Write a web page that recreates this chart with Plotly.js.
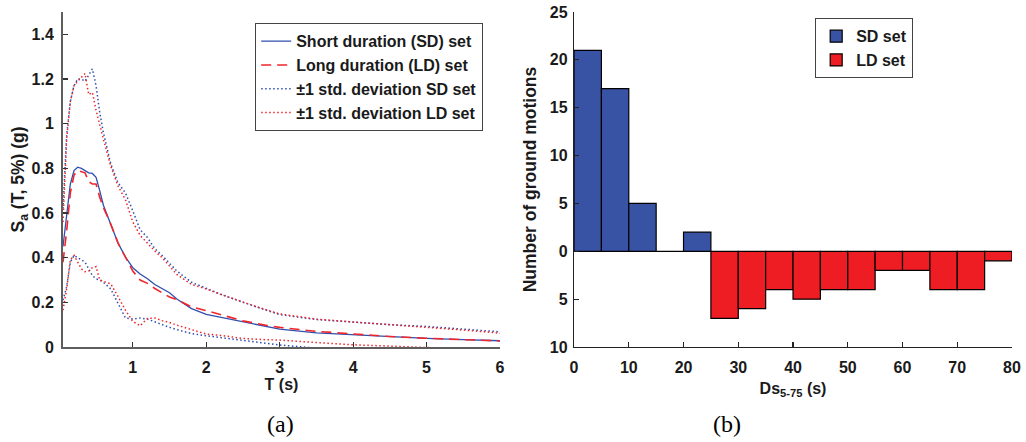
<!DOCTYPE html>
<html>
<head>
<meta charset="utf-8">
<script src="https://cdn.plot.ly/plotly-3.0.1.min.js"></script>
<style>html,body{margin:0;padding:0;background:#fff;}#chart{width:1026px;height:442px;}</style>
</head>
<body>
<div id="chart"></div>
<script>
// ---- Panel (a): response spectra ----
const periodT = [0.05,0.1,0.15,0.2,0.25,0.3,0.35,0.4,0.45,0.5,0.55,0.6,0.7,0.8,0.9,1.0,1.1,1.2,1.3,1.4,1.5,1.6,1.8,2.0,2.2,2.5,2.8,3.0,3.5,4.0,4.5,5.0,5.5,6.0];
const meanSD  = [0.45,0.59,0.73,0.79,0.805,0.80,0.79,0.78,0.777,0.76,0.70,0.635,0.55,0.465,0.403,0.355,0.327,0.306,0.28,0.26,0.243,0.215,0.172,0.146,0.133,0.112,0.092,0.080,0.063,0.054,0.046,0.039,0.033,0.028];
const meanLD  = [0.38,0.52,0.69,0.77,0.79,0.785,0.78,0.74,0.73,0.73,0.67,0.625,0.55,0.465,0.40,0.34,0.30,0.285,0.262,0.242,0.224,0.212,0.18,0.163,0.145,0.117,0.098,0.088,0.070,0.057,0.047,0.039,0.033,0.027];
const upperSD = [0.62,0.95,1.10,1.17,1.20,1.20,1.19,1.22,1.245,1.17,1.05,0.96,0.82,0.735,0.69,0.61,0.525,0.49,0.44,0.41,0.375,0.34,0.29,0.262,0.236,0.20,0.166,0.145,0.123,0.111,0.100,0.092,0.080,0.068];
const upperLD = [0.56,0.93,1.10,1.17,1.19,1.21,1.225,1.13,1.14,1.06,0.99,0.93,0.81,0.72,0.66,0.56,0.50,0.465,0.43,0.40,0.36,0.325,0.28,0.26,0.235,0.20,0.168,0.148,0.125,0.112,0.100,0.090,0.076,0.062];
const lowerSD = [0.21,0.27,0.38,0.41,0.40,0.39,0.38,0.35,0.32,0.305,0.30,0.29,0.26,0.195,0.13,0.125,0.13,0.125,0.113,0.098,0.088,0.078,0.060,0.050,0.042,0.030,0.016,0.009,-0.005,-0.010,-0.015,-0.020,-0.025,-0.030];
const lowerLD = [0.165,0.26,0.39,0.41,0.38,0.35,0.337,0.34,0.355,0.36,0.30,0.295,0.283,0.225,0.165,0.115,0.095,0.128,0.13,0.118,0.11,0.098,0.077,0.058,0.052,0.038,0.033,0.031,0.020,0.010,0.004,-0.003,-0.010,-0.015];
const saTicks = [0,0.2,0.4,0.6,0.8,1,1.2,1.4];
const saTickText = ['0','0.2','0.4','0.6','0.8','1','1.2','1.4'];
const tTicks = [1,2,3,4,5,6];

// ---- Panel (b): duration histogram ----
const binStartsSD = [0,5,10,15,20];
const countsSD = [21,17,5,0,2];
const binStartsLD = [25,30,35,40,45,50,55,60,65,70,75];
const countsLD = [7,6,4,5,4,4,2,2,4,4,1];
const countTicks = [-10,-5,0,5,10,15,20,25];
const countTickText = ['10','5','0','5','10','15','20','25'];
const dsTicks = [0,10,20,30,40,50,60,70,80];

const binWidth = 5;
const BLUE = '#2f4eae';
const RED = '#f0262b';
const txt = '#1a1a1a';
const fontFam = 'Liberation Sans, Arial, Helvetica, sans-serif';

const traces = [
  {x: periodT, y: meanSD, type:'scatter', mode:'lines', name:'Short duration (SD) set',
   line:{color:BLUE, width:1.3}, xaxis:'x', yaxis:'y', legend:'legend'},
  {x: periodT, y: meanLD, type:'scatter', mode:'lines', name:'Long duration (LD) set',
   line:{color:RED, width:1.6, dash:'10px,6px'}, xaxis:'x', yaxis:'y', legend:'legend'},
  {x: periodT, y: upperSD, type:'scatter', mode:'lines', name:'±1 std. deviation SD set',
   line:{color:BLUE, width:1.5, dash:'1.5px,2.5px'}, xaxis:'x', yaxis:'y', legend:'legend', legendgroup:'sd'},
  {x: periodT, y: upperLD, type:'scatter', mode:'lines', name:'±1 std. deviation LD set',
   line:{color:RED, width:1.5, dash:'1.5px,2.5px'}, xaxis:'x', yaxis:'y', legend:'legend', legendgroup:'ld'},
  {x: periodT, y: lowerSD, type:'scatter', mode:'lines', name:'-1 std SD', showlegend:false,
   line:{color:BLUE, width:1.5, dash:'1.5px,2.5px'}, xaxis:'x', yaxis:'y', legendgroup:'sd'},
  {x: periodT, y: lowerLD, type:'scatter', mode:'lines', name:'-1 std LD', showlegend:false,
   line:{color:RED, width:1.5, dash:'1.5px,2.5px'}, xaxis:'x', yaxis:'y', legendgroup:'ld'},
  {x: binStartsSD.map(s => s + binWidth/2), y: countsSD, width: binWidth, type:'bar', name:'SD set',
   marker:{color:'#3852a4', line:{color:'#000', width:1.2}}, xaxis:'x2', yaxis:'y2', legend:'legend2'},
  {x: binStartsLD.map(s => s + binWidth/2), y: countsLD.map(v => -v), width: binWidth, type:'bar', name:'LD set',
   marker:{color:'#ee1d24', line:{color:'#000', width:1.2}}, xaxis:'x2', yaxis:'y2', legend:'legend2'}
];

const tf = {family:fontFam, size:16, color:txt, weight:'bold'};
const yf = {family:fontFam, size:17.5, color:txt, weight:'bold'};
const axCommon = {showgrid:false, zeroline:false, showline:true, ticks:'inside', ticklen:5, tickwidth:1.2, tickfont:tf};

const layout = {
  width:1026, height:442,
  margin:{l:63, r:14, t:12, b:95},
  paper_bgcolor:'#fff', plot_bgcolor:'#fff',
  font:tf,
  barmode:'overlay', bargap:0,
  xaxis: Object.assign({}, axCommon, {domain:[0,0.4605], range:[0.05,6], tickvals:tTicks, anchor:'y',
    linecolor:'#5e5e5e', linewidth:2, tickcolor:'#333', ticklabelstandoff:5,
    title:{text:'T (s)', standoff:3, font:tf}}),
  yaxis: Object.assign({}, axCommon, {domain:[0,1], range:[0,1.5], tickvals:saTicks, ticktext:saTickText, anchor:'x',
    linecolor:'#5e5e5e', linewidth:2, tickcolor:'#333', ticklabelstandoff:4,
    title:{text:'S<sub>a</sub> (T, 5%) (g)', standoff:2, font:yf}}),
  xaxis2: Object.assign({}, axCommon, {domain:[0.5385,1], range:[0,80], tickvals:dsTicks, anchor:'y2',
    linecolor:'#222', linewidth:1.3, tickcolor:'#222', ticklabelstandoff:5,
    title:{text:'Ds<sub>5-75</sub> (s)', standoff:8, font:tf}}),
  yaxis2: Object.assign({}, axCommon, {domain:[0,1], range:[-10,25], tickvals:countTicks, ticktext:countTickText, anchor:'x2',
    linecolor:'#222', linewidth:1.3, tickcolor:'#222', zeroline:true, zerolinecolor:'#000', zerolinewidth:1.3, ticklabelstandoff:2,
    title:{text:'Number of ground motions', standoff:8, font:yf}}),
  legend:{x:0.2023, y:0.967, xanchor:'left', yanchor:'top', bgcolor:'#fff', bordercolor:'#444', borderwidth:1.2,
    tracegroupgap:0, font:{family:fontFam, size:16, color:txt, weight:'bold'}},
  legend2:{x:0.7924, y:0.982, xanchor:'left', yanchor:'top', bgcolor:'#fff', bordercolor:'#444', borderwidth:1.2,
    tracegroupgap:0, font:{family:fontFam, size:16, color:txt, weight:'bold'}},
  annotations:[
    {text:'(a)', xref:'paper', yref:'paper', x:0.2287, y:-0.23, xanchor:'center', yanchor:'middle', showarrow:false,
     font:{family:'Liberation Serif, Times New Roman, serif', size:24, color:'#000', weight:'normal'}},
    {text:'(b)', xref:'paper', yref:'paper', x:0.6997, y:-0.23, xanchor:'center', yanchor:'middle', showarrow:false,
     font:{family:'Liberation Serif, Times New Roman, serif', size:24, color:'#000', weight:'normal'}}
  ],
  showlegend:true
};

Plotly.newPlot('chart', traces, layout, {displayModeBar:false, staticPlot:true});
</script>
</body>
</html>
